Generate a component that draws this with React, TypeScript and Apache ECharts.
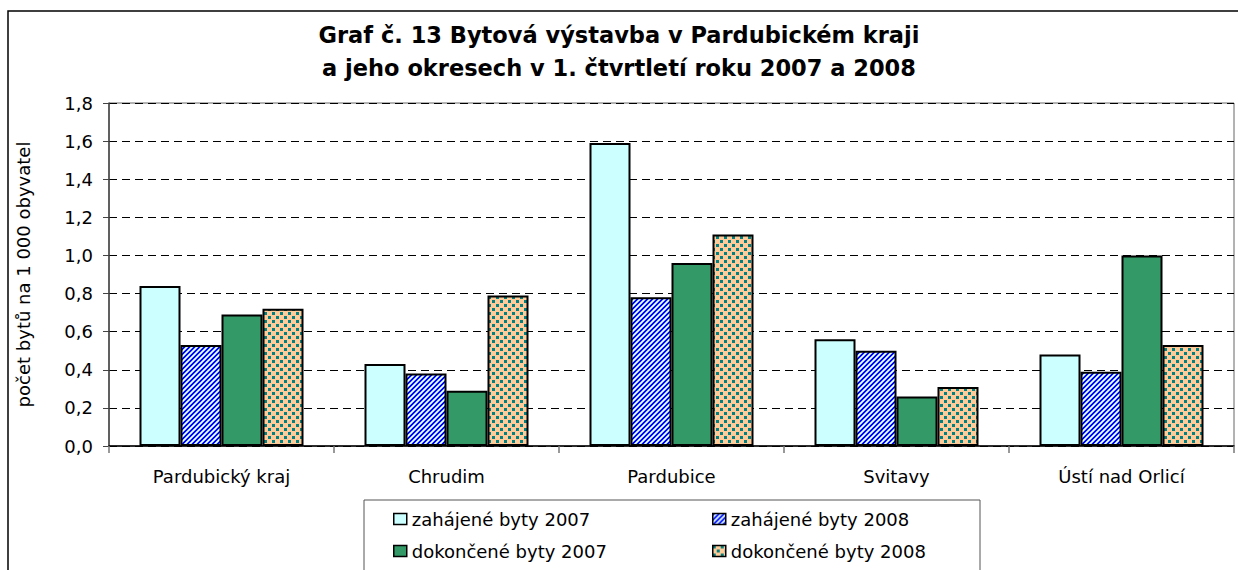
import React, { useEffect, useRef } from "react";
import * as echarts from "echarts";

const categories = ["Pardubický kraj", "Chrudim", "Pardubice", "Svitavy", "Ústí nad Orlicí"];
const seriesNames = ["zahájené byty 2007", "zahájené byty 2008", "dokončené byty 2007", "dokončené byty 2008"];
const started2007 = [0.84, 0.43, 1.59, 0.56, 0.48];
const started2008 = [0.53, 0.38, 0.78, 0.5, 0.39];
const finished2007 = [0.69, 0.29, 0.96, 0.26, 1.0];
const finished2008 = [0.72, 0.79, 1.11, 0.31, 0.53];

function stripeCanvas(): HTMLCanvasElement {
  const c = document.createElement("canvas");
  const n = 5;
  c.width = n * 2;
  c.height = n * 2;
  const ctx = c.getContext("2d")!;
  for (let x = 0; x < c.width; x++) {
    for (let y = 0; y < c.height; y++) {
      const k = (x + y) % n;
      ctx.fillStyle = k < 2 ? "#0000FF" : k === 3 ? "#FFFFFF" : "#99CCFF";
      ctx.fillRect(x, y, 1, 1);
    }
  }
  return c;
}

function dotCanvas(): HTMLCanvasElement {
  const c = document.createElement("canvas");
  c.width = 8;
  c.height = 8;
  const ctx = c.getContext("2d")!;
  ctx.fillStyle = "#FFCC99";
  ctx.fillRect(0, 0, 8, 8);
  ctx.fillStyle = "#008080";
  ctx.fillRect(0, 0, 3, 3);
  ctx.fillRect(4, 4, 3, 3);
  return c;
}

export default function App() {
  const ref = useRef<HTMLDivElement>(null);
  useEffect(() => {
    if (!ref.current) return;
    const chart = echarts.init(ref.current, null, { renderer: "svg" });
    const stripes = { image: stripeCanvas(), repeat: "repeat" };
    const dots = { image: dotCanvas(), repeat: "repeat" };
    const colors: any[] = ["#CCFFFF", stripes, "#339966", dots];
    const values = [started2007, started2008, finished2007, finished2008];
    const font = "DejaVu Sans";
    const legendCommon = {
      orient: "vertical",
      top: 509,
      height: 58,
      padding: 0,
      itemWidth: 13,
      itemHeight: 11,
      itemGap: 12,
      selectedMode: false,
      icon: "rect",
      itemStyle: { borderColor: "#000", borderWidth: 1.5 },
      textStyle: { fontSize: 18, color: "#000", fontFamily: font, lineHeight: 20 },
    };
    chart.setOption({
      animation: false,
      textStyle: { fontFamily: font },
      title: {
        text: "Graf č. 13 Bytová výstavba v Pardubickém kraji\na jeho okresech v 1. čtvrtletí roku 2007 a 2008",
        left: "center",
        top: 18,
        padding: 0,
        textStyle: { fontSize: 22.5, fontWeight: "bold", color: "#000", lineHeight: 33, fontFamily: font },
      },
      graphic: [
        {
          type: "rect",
          shape: { x: 8, y: 11, width: 1400, height: 800 },
          style: { fill: "none", stroke: "#000", lineWidth: 1.5 },
          silent: true,
        },
        {
          type: "rect",
          shape: { x: 364, y: 500, width: 616, height: 200 },
          style: { fill: "none", stroke: "#555", lineWidth: 1 },
          silent: true,
        },
      ],
      legend: [
        { ...legendCommon, left: 393, data: [seriesNames[0], seriesNames[2]] },
        { ...legendCommon, left: 712, data: [seriesNames[1], seriesNames[3]] },
      ],
      grid: {
        left: 109,
        top: 103,
        right: 4,
        bottom: 124,
        show: true,
        borderColor: "#666",
        borderWidth: 1,
        backgroundColor: "transparent",
      },
      xAxis: {
        type: "category",
        data: categories,
        axisLine: { lineStyle: { color: "#000", width: 1.5 } },
        axisTick: { show: true, length: 7, lineStyle: { color: "#777", width: 1.5 } },
        axisLabel: { fontSize: 18, color: "#000", margin: 21, fontFamily: font },
      },
      yAxis: {
        type: "value",
        min: 0,
        max: 1.8,
        interval: 0.2,
        name: "počet bytů na 1 000 obyvatel",
        nameLocation: "middle",
        nameRotate: 90,
        nameGap: 77,
        nameTextStyle: { fontSize: 18, color: "#000", fontFamily: font },
        axisLine: { show: true, lineStyle: { color: "#444", width: 1.5 } },
        axisTick: { show: true, length: 6, lineStyle: { color: "#444" } },
        axisLabel: {
          fontSize: 18,
          color: "#000",
          margin: 16,
          fontFamily: font,
          formatter: (v: number) => v.toFixed(1).replace(".", ","),
        },
        splitLine: { show: true, lineStyle: { color: "#000", type: [8, 5], width: 1 } },
      },
      series: seriesNames.map((name, i) => ({
        name,
        type: "bar",
        data: values[i],
        barWidth: 41,
        barGap: "0%",
        itemStyle: { color: colors[i], borderColor: "#000", borderWidth: 2 },
      })),
    });
    return () => chart.dispose();
  }, []);
  return (
    <div
      ref={ref}
      style={{ position: "absolute", left: 0, top: 0, width: 1238, height: 570, background: "#fff" }}
    />
  );
}
